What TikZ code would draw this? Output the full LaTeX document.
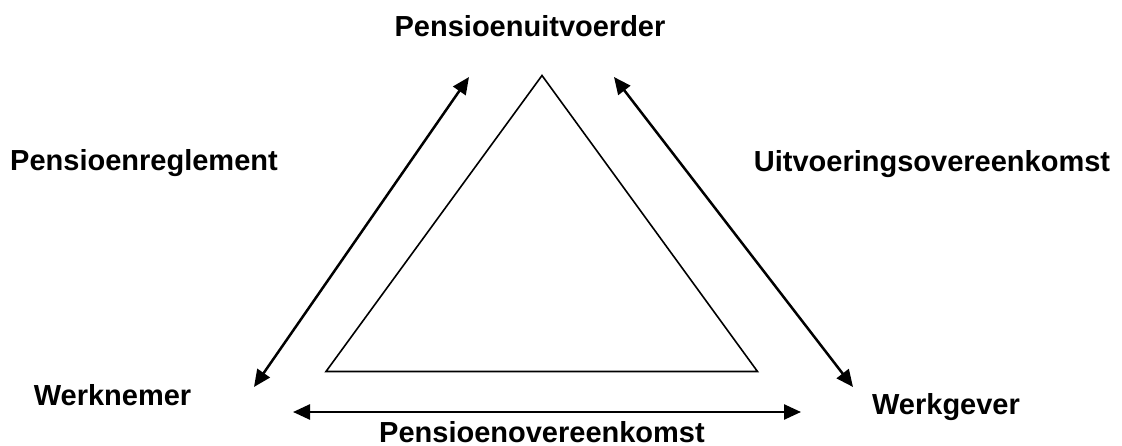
\documentclass[tikz,border=0pt]{standalone}
\usepackage{fontspec}
\setmainfont{Liberation Sans}
\usetikzlibrary{arrows.meta}
\begin{document}
\begin{tikzpicture}[x=1pt,y=-1pt,
  lbl/.style={font=\fontsize{29}{34}\selectfont\bfseries, anchor=base, inner sep=0pt},
  conn/.style={line width=2.5pt, {Triangle[length=17pt,width=15pt]}-{Triangle[length=17pt,width=15pt]}},
  tri/.style={line width=1.6pt, line join=miter}]
\useasboundingbox (0,0) rectangle (1122,446);
% labels
\node[lbl] (uitv) at (530,37) {Pensioenuitvoerder};
\node[lbl] (regl) at (144,171) {Pensioenreglement};
\node[lbl] (uovk) at (932,172) {Uitvoeringsovereenkomst};
\node[lbl] (wnem) at (112.5,405) {Werknemer};
\node[lbl] (wgev) at (946,414) {Werkgever};
\node[lbl] (povk) at (542,442) {Pensioenovereenkomst};
% triangle
\coordinate (tT) at (542,75.5);
\coordinate (tL) at (326,371.5);
\coordinate (tR) at (757.5,371.5);
\draw[tri] (tT) -- (tL) -- (tR) -- cycle;
% arrow endpoints
\coordinate (aL1) at (254,387);
\coordinate (aL2) at (469,77);
\coordinate (aR1) at (614,77);
\coordinate (aR2) at (853,387);
\coordinate (aB1) at (293,412);
\coordinate (aB2) at (801,412);
\draw[conn] (aL1) -- (aL2);
\draw[conn] (aR1) -- (aR2);
\draw[conn] (aB1) -- (aB2);
\end{tikzpicture}
\end{document}
